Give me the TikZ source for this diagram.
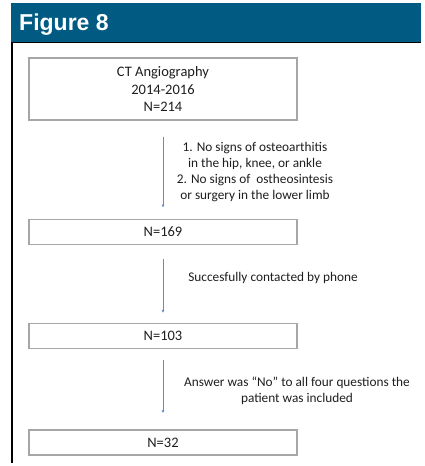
\documentclass[tikz,border=0pt]{standalone}
\usepackage{fontspec}
\setmainfont{Carlito}
\newfontfamily\headfont{Liberation Sans}
\usepackage{tikz}
\usetikzlibrary{positioning, arrows.meta}

\definecolor{headblue}{HTML}{005A82}
\definecolor{boxgray}{HTML}{A6A6A6}
\definecolor{flowblue}{HTML}{5B8FD0}
\definecolor{txtgray}{HTML}{1E1E1E}

\begin{document}
\begin{tikzpicture}[
                x=1pt, y=-1pt,
                stagebox/.style={
                        draw=boxgray,
                        line width=1.3pt,
                        minimum width=268pt,
                        minimum height=25pt,
                        inner sep=0pt,
                        align=center,
                        text=txtgray,
                        font=\fontsize{14.5}{17.5}\selectfont
                    },
                criterion/.style={
                        align=center,
                        inner sep=0pt,
                        text=txtgray,
                        font=\fontsize{13.3}{15.8}\selectfont
                    },
                flow/.style={
                        -{Latex[length=3pt, width=3pt]},
                        draw=flowblue,
                        line width=0.7pt
                    }
            ]

            \useasboundingbox (0,0) rectangle (425,466);

            % header band and frame
            \fill[headblue] (11,3) rectangle (421,42);
            \draw[line width=1.4pt] (11,42.5) -- (421,42.5);
            \draw[line width=1.4pt] (12,42) -- (12,463);
            \node[anchor=base west, inner sep=0pt, text=white,
                font=\headfont\bfseries\fontsize{23}{27}\selectfont] (title) at (19,30.5) {Figure 8};

            % stages
            \node[stagebox, minimum height=62pt] (ct) at (163,89) {CT Angiography\\2014-2016\\N=214};
            \node[stagebox] (n169) [below=98pt of ct] {N=169};
            \node[stagebox] (n103) [below=78pt of n169] {N=103};
            \node[stagebox] (n32) [below=80pt of n103] {N=32};

            % criteria
            \node[criterion] (excl) at (255,172) {1. No signs of osteoarthitis\\in the hip, knee, or ankle\\2. No signs of \ ostheosintesis\\or surgery in the lower limb};
            \node[criterion] (phone) at (273,278) {Succesfully contacted by phone};
            \node[criterion] (answer) at (297,391) {Answer was “No” to all four questions the\\patient was included};

            \draw[flow, shorten <=16pt, shorten >=11pt] (ct) -- (n169);
            \draw[flow, shorten <=14pt, shorten >=10pt] (n169) -- (n103);
            \draw[flow, shorten <=11pt, shorten >=16pt] (n103) -- (n32);

        \end{tikzpicture}
\end{document}
